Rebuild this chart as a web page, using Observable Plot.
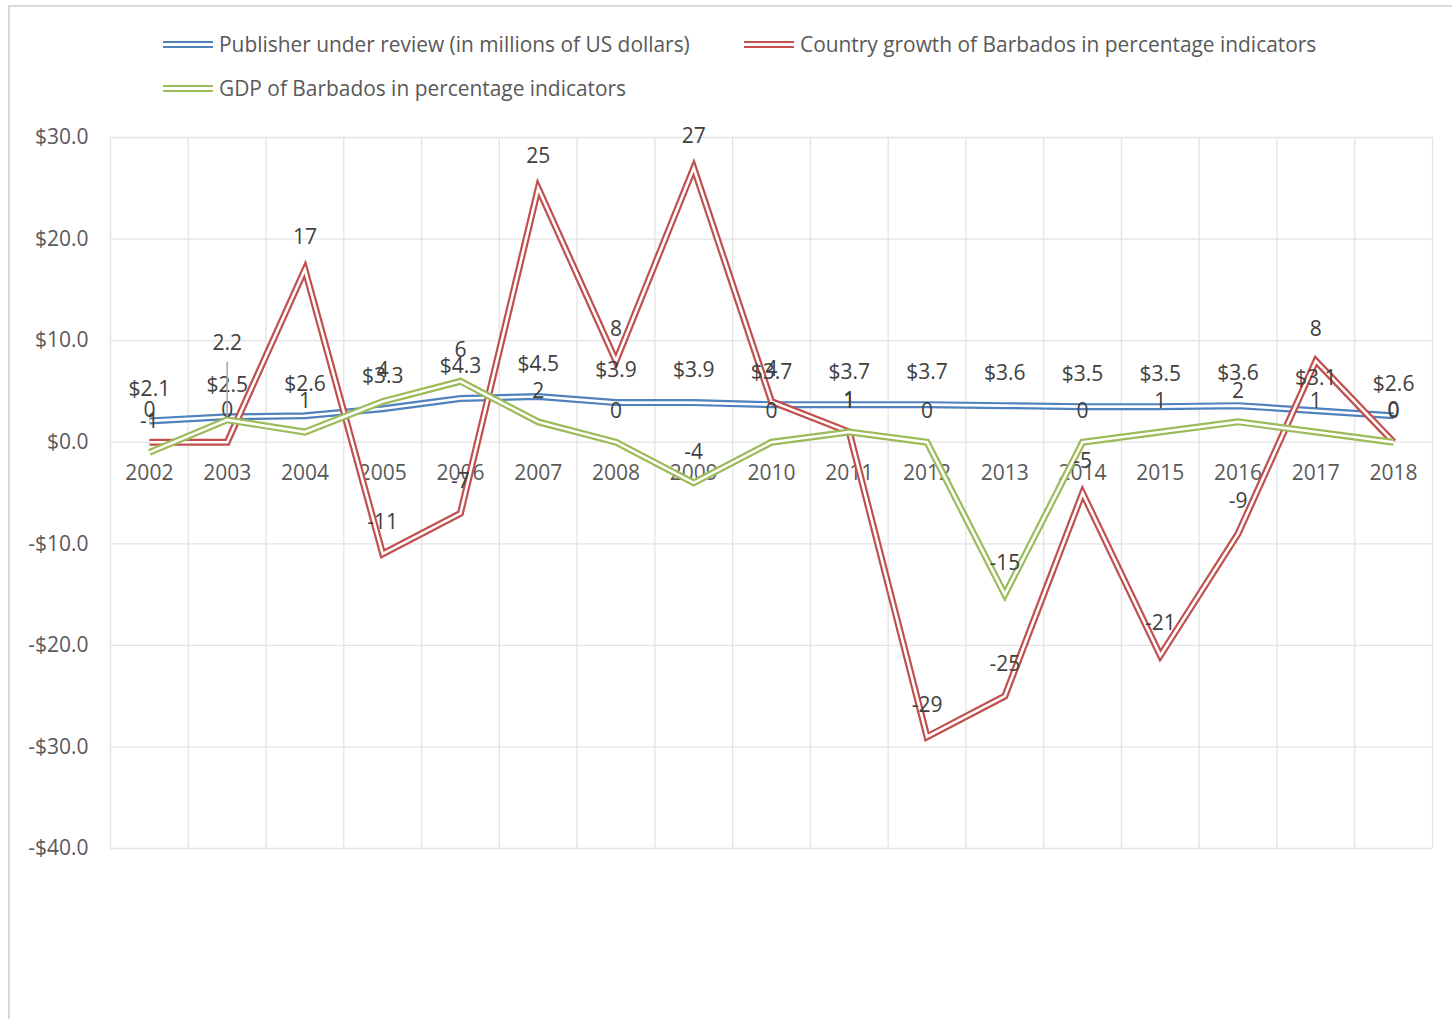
<!DOCTYPE html>
<html>
<head>
<meta charset="utf-8">
<script src="https://cdn.jsdelivr.net/npm/d3@7"></script>
<script src="https://cdn.jsdelivr.net/npm/@observablehq/plot@0.6"></script>
<style>
  html, body { margin: 0; padding: 0; background: #fff; overflow: hidden; }
  #wrap { position: relative; width: 1452px; height: 1019px; font-family: "Open Sans", sans-serif; }
  #frame { position: absolute; left: 8px; top: 5px; width: 1500px; height: 1100px;
           border-left: 2px solid #d9d9d9; border-top: 2px solid #d9d9d9; }
  .leg { position: absolute; display: flex; align-items: center; font-size: 20.9px; color: #595959; white-space: nowrap; }
  .sw { width: 50px; height: 7px; box-sizing: border-box; border-top: 2px solid; border-bottom: 2px solid; margin-right: 6px; }
  #chart { position: absolute; left: 0; top: 110px; }
</style>
</head>
<body>
<div id="wrap">
  <div id="frame"></div>
  <div id="legend"></div>
  <div id="chart"></div>
</div>
<script>
const years = [2002, 2003, 2004, 2005, 2006, 2007, 2008, 2009, 2010, 2011, 2012, 2013, 2014, 2015, 2016, 2017, 2018];
const publisher = [2.1, 2.5, 2.6, 3.3, 4.3, 4.5, 3.9, 3.9, 3.7, 3.7, 3.7, 3.6, 3.5, 3.5, 3.6, 3.1, 2.6];
const growth = [0, 0, 17, -11, -7, 25, 8, 27, 4, 1, -29, -25, -5, -21, -9, 8, 0];
const gdp = [-1, 2.2, 1, 4, 6, 2, 0, -4, 0, 1, 0, -15, 0, 1, 2, 1, 0];
const seriesNames = [
  "Publisher under review (in millions of US dollars)",
  "Country growth of Barbados in percentage indicators",
  "GDP of Barbados in percentage indicators"
];
const colors = ["#4f81bd", "#c0504d", "#9bbb59"];
const yTicks = [-40, -30, -20, -10, 0, 10, 20, 30];

// legend
const legendPos = [[163, 44], [744, 44], [163, 88]];
const legend = document.getElementById("legend");
seriesNames.forEach((name, i) => {
  const el = document.createElement("div");
  el.className = "leg";
  el.style.left = legendPos[i][0] + "px";
  el.style.top = (legendPos[i][1] - 14) + "px";
  el.style.height = "28px";
  const sw = document.createElement("div");
  sw.className = "sw";
  sw.style.borderColor = colors[i];
  el.appendChild(sw);
  const t = document.createElement("span");
  t.textContent = name;
  el.appendChild(t);
  legend.appendChild(el);
});

const W = 1452, H = 909, ML = 110, MR = 20, MT = 27, MB = 171;
const step = (W - ML - MR) / years.length;

const pubData = years.map((y, i) => ({year: y, value: publisher[i]}));
const growthData = years.map((y, i) => ({year: y, value: growth[i]}));
const gdpData = years.map((y, i) => ({year: y, value: gdp[i]}));

function doubleLine(data, color) {
  return [
    Plot.line(data, {x: "year", y: "value", stroke: color, strokeWidth: 7, strokeLinejoin: "miter", strokeMiterlimit: 10, strokeLinecap: "butt"}),
    Plot.line(data, {x: "year", y: "value", stroke: "#fff", strokeWidth: 2.6, strokeLinejoin: "miter", strokeMiterlimit: 10, strokeLinecap: "butt"})
  ];
}

const fmtNum = v => String(v);
const fmtDollar = v => "$" + v.toFixed(1);
const leader = {draw(context) { context.moveTo(0, -3); context.lineTo(0, -58); }};
const FS = 21;

const plot = Plot.plot({
  width: W, height: H,
  marginLeft: ML, marginRight: MR, marginTop: MT, marginBottom: MB,
  style: {fontFamily: "Open Sans", fontSize: FS + "px", color: "#595959", background: "transparent"},
  x: {type: "point", domain: years, padding: 0.5, round: false, axis: null},
  y: {domain: [-40, 30], axis: null},
  marks: [
    Plot.gridY(yTicks, {stroke: "#e3e3e3", strokeOpacity: 1, strokeWidth: 1.3}),
    Plot.ruleX(years, {dx: step / 2, stroke: "#e3e3e3", strokeWidth: 1.3}),
    Plot.ruleX([years[0]], {dx: -step / 2, stroke: "#e3e3e3", strokeWidth: 1.3}),
    Plot.axisY(yTicks, {label: null, tickSize: 0, tickPadding: 22, tickFormat: v => (v < 0 ? "-$" : "$") + Math.abs(v).toFixed(1), fill: "#595959", fontSize: FS}),
    Plot.text(years, {x: d => d, y: () => 0, dy: 31, text: d => String(d), fill: "#595959", fontSize: FS}),
    ...doubleLine(pubData, colors[0]),
    ...doubleLine(growthData, colors[1]),
    ...doubleLine(gdpData, colors[2]),
    Plot.text(pubData, {x: "year", y: "value", dy: -32, text: d => fmtDollar(d.value), fill: "#404040", fontSize: FS}),
    Plot.text(growthData, {x: "year", y: "value", dy: -32, text: d => fmtNum(d.value), fill: "#404040", fontSize: FS}),
    Plot.text(gdpData.filter(d => d.year !== 2003), {x: "year", y: "value", dy: -31, text: d => fmtNum(d.value), fill: "#404040", fontSize: FS}),
    Plot.dot(gdpData.filter(d => d.year === 2003), {x: "year", y: "value", symbol: leader, stroke: "#a6a6a6", strokeWidth: 1.5, fill: "none"}),
    Plot.text(gdpData.filter(d => d.year === 2003), {x: "year", y: "value", dy: -77, text: d => fmtNum(d.value), fill: "#404040", fontSize: FS})
  ]
});
document.getElementById("chart").appendChild(plot);
</script>
</body>
</html>
